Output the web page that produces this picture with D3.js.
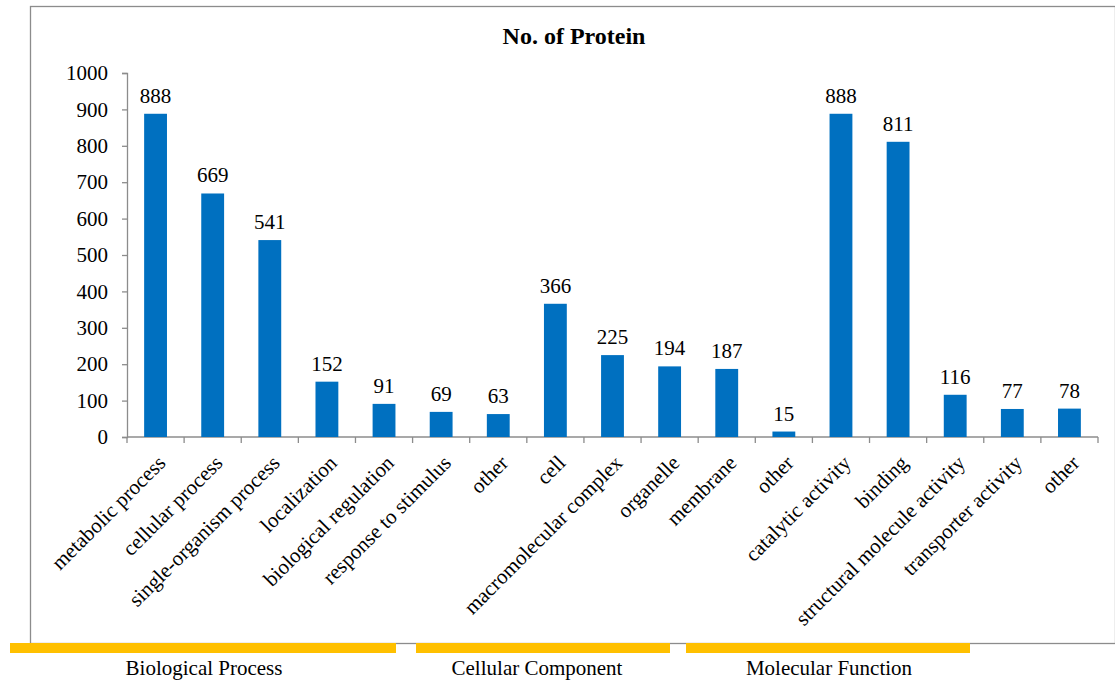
<!DOCTYPE html>
<html>
<head>
<meta charset="utf-8">
<script src="https://cdn.jsdelivr.net/npm/d3@7"></script>
<style>
  html, body { margin: 0; padding: 0; background: #fff; }
  svg { display: block; }
  svg text { font-family: 'Liberation Serif', 'Times New Roman', Times, serif; }
</style>
</head>
<body>
<svg id="chart" width="1115" height="684"></svg>
<script>
// GO annotation counts per term
const categories = [
  "metabolic process", "cellular process", "single-organism process", "localization",
  "biological regulation", "response to stimulus", "other",
  "cell", "macromolecular complex", "organelle", "membrane", "other",
  "catalytic activity", "binding", "structural molecule activity", "transporter activity", "other"
];
const proteinCounts = [888, 669, 541, 152, 91, 69, 63, 366, 225, 194, 187, 15, 888, 811, 116, 77, 78];
const yTicks = [0, 100, 200, 300, 400, 500, 600, 700, 800, 900, 1000];
const groupNames = ["Biological Process", "Cellular Component", "Molecular Function"];
const chartTitle = "No. of Protein";

const FONT = "'Liberation Serif', 'Times New Roman', Times, serif";
const FS = 21;
const svg = d3.select("#chart");
const W = 1115, H = 684;
const plot = { left: 127, right: 1098, top: 73, bottom: 437 };

// outer frame
svg.append("rect")
  .attr("x", 30.5).attr("y", 6.5)
  .attr("width", W - 30).attr("height", 637)
  .attr("fill", "none").attr("stroke", "#8c8c8c").attr("stroke-width", 1.3);

const x = d3.scaleBand()
  .domain(d3.range(categories.length))
  .range([plot.left, plot.right])
  .paddingInner(0.6).paddingOuter(0.3);

const y = d3.scaleLinear().domain([0, 1000]).range([plot.bottom, plot.top]);

// title
svg.append("text")
  .attr("x", 574).attr("y", 44)
  .attr("text-anchor", "middle")
  .attr("font-family", FONT)
  .attr("font-size", 24).attr("font-weight", "bold")
  .attr("fill", "#000")
  .text(chartTitle);

// y axis
const yAxis = svg.append("g")
  .attr("transform", `translate(${plot.left},0)`)
  .call(d3.axisLeft(y).tickValues(yTicks).tickSize(5).tickPadding(14).tickFormat(d3.format("d")));
yAxis.attr("font-family", FONT);
yAxis.selectAll("line, path").attr("stroke", "#8c8c8c").attr("stroke-width", 1.3);
yAxis.selectAll("text").attr("font-size", FS).attr("fill", "#000").attr("font-family", FONT);

// x axis: ticks sit on category boundaries
const boundaries = d3.range(categories.length + 1).map(i => plot.left + i * (plot.right - plot.left) / categories.length);
const xAxisG = svg.append("g");
xAxisG.append("line")
  .attr("x1", plot.left).attr("x2", plot.right)
  .attr("y1", plot.bottom).attr("y2", plot.bottom)
  .attr("stroke", "#8c8c8c").attr("stroke-width", 1.3);
xAxisG.selectAll("line.tick")
  .data(boundaries)
  .join("line")
  .attr("class", "tick")
  .attr("x1", d => d).attr("x2", d => d)
  .attr("y1", plot.bottom).attr("y2", plot.bottom + 6)
  .attr("stroke", "#8c8c8c").attr("stroke-width", 1.3);

// bars
svg.append("g").selectAll("rect")
  .data(proteinCounts)
  .join("rect")
  .attr("x", (d, i) => x(i))
  .attr("y", d => y(d))
  .attr("width", x.bandwidth())
  .attr("height", d => y(0) - y(d))
  .attr("fill", "#0070C0");

// value labels
svg.append("g").selectAll("text")
  .data(proteinCounts)
  .join("text")
  .attr("x", (d, i) => x(i) + x.bandwidth() / 2)
  .attr("y", d => y(d) - 11)
  .attr("text-anchor", "middle")
  .attr("font-family", FONT)
  .attr("font-size", FS)
  .attr("fill", "#000")
  .text(d => d);

// category labels, rotated
svg.append("g").selectAll("text")
  .data(categories)
  .join("text")
  .attr("transform", (d, i) => `translate(${x(i) + x.bandwidth() / 2 + 6},${plot.bottom + 22}) rotate(-45)`)
  .attr("text-anchor", "end")
  .attr("dy", "0.35em")
  .attr("font-family", FONT)
  .attr("font-size", FS)
  .attr("fill", "#000")
  .text(d => d);

// group strips below the frame
const groupStrips = [
  { x0: 10, x1: 396, cx: 204 },
  { x0: 416, x1: 670, cx: 537 },
  { x0: 686, x1: 970, cx: 829 }
];
const groups = svg.append("g");
groups.selectAll("rect")
  .data(groupStrips)
  .join("rect")
  .attr("x", d => d.x0).attr("y", 643)
  .attr("width", d => d.x1 - d.x0).attr("height", 10)
  .attr("fill", "#FFC000");
groups.selectAll("text")
  .data(groupStrips)
  .join("text")
  .attr("x", d => d.cx).attr("y", 675)
  .attr("text-anchor", "middle")
  .attr("font-family", FONT)
  .attr("font-size", FS)
  .attr("fill", "#000")
  .text((d, i) => groupNames[i]);
</script>
</body>
</html>
